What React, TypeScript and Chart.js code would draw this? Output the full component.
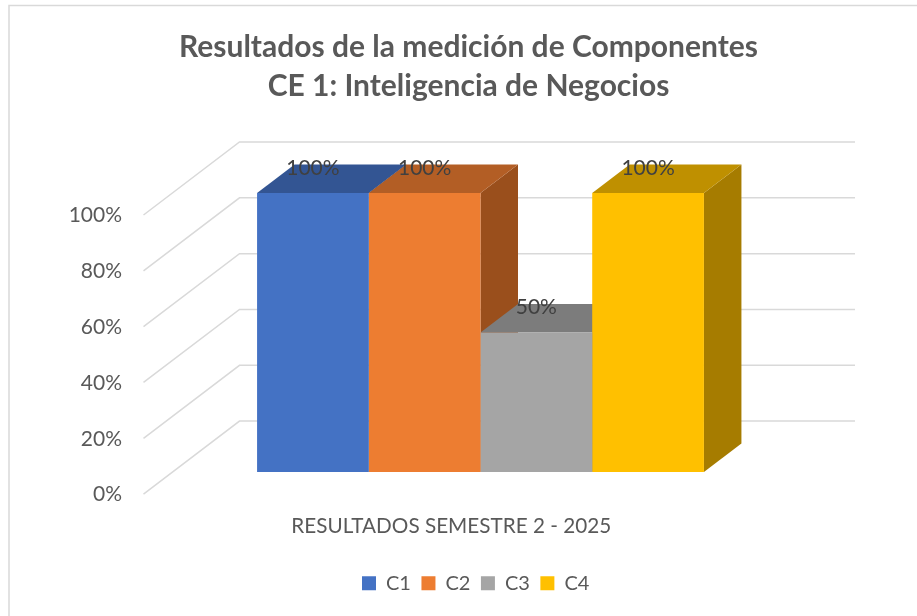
import React, { useEffect, useRef } from "react";
import { Chart, registerables } from "chart.js";

Chart.register(...registerables);

const categories = ["RESULTADOS SEMESTRE 2 - 2025"];
const seriesNames = ["C1", "C2", "C3", "C4"];
const seriesValues = [[100], [100], [50], [100]];
const frontColors = ["#4472C4", "#ED7D31", "#A5A5A5", "#FFC000"];
const topColors = ["#335593", "#B35E25", "#7C7C7C", "#BF9000"];
const sideColors = ["#294476", "#9A4F1C", "#636363", "#A67C00"];
const titleLines = ["Resultados de la medición de Componentes", "CE 1: Inteligencia de Negocios"];
const FONT = "Lato, Carlito, Calibri, sans-serif";
const TEXT = "#595959";
const GRID = "#D9D9D9";
const LEGEND_PAD = 10.5;
const floorDx = 96;
const floorDy = -73;
const barShiftX = 29.25;
const barShiftY = -22;
const barDepthX = 37.5;
const barDepthY = -28.5;

const poly = (ctx: CanvasRenderingContext2D, pts: number[][], fill: string) => {
  ctx.beginPath();
  pts.forEach(([x, y], i) => (i ? ctx.lineTo(x, y) : ctx.moveTo(x, y)));
  ctx.closePath();
  ctx.fillStyle = fill;
  ctx.fill();
};

const scene3d = {
  id: "scene3d",
  afterLayout(chart: any) {
    const t = chart.titleBlock;
    t.left = 10;
    t.right = 927;
    const l = chart.legend;
    l.left = 362 - LEGEND_PAD;
    l.right = 917;
  },
  beforeDraw(chart: any) {
    const ctx: CanvasRenderingContext2D = chart.ctx;
    ctx.save();
    ctx.strokeStyle = GRID;
    ctx.lineWidth = 1.5;
    ctx.beginPath();
    ctx.moveTo(9, 616);
    ctx.lineTo(9, 5.5);
    ctx.lineTo(917, 5.5);
    ctx.stroke();
    ctx.restore();
  },
  beforeDatasetsDraw(chart: any) {
    const ctx: CanvasRenderingContext2D = chart.ctx;
    const { left, right } = chart.chartArea;
    const yScale = chart.scales.y;
    ctx.save();
    ctx.strokeStyle = GRID;
    ctx.lineWidth = 1.5;
    yScale.ticks.forEach((tick: any) => {
      const y = yScale.getPixelForValue(tick.value);
      ctx.beginPath();
      ctx.moveTo(left, y);
      ctx.lineTo(left + floorDx, y + floorDy);
      ctx.lineTo(right + floorDx, y + floorDy);
      ctx.stroke();
    });
    chart.data.datasets.forEach((_: any, i: number) => {
      const el = chart.getDatasetMeta(i).data[0];
      const x0 = el.x - el.width / 2 + barShiftX;
      const x1 = el.x + el.width / 2 + barShiftX;
      const yTop = el.y + barShiftY;
      const yBase = el.base + barShiftY;
      poly(ctx, [[x1, yTop], [x1 + barDepthX, yTop + barDepthY], [x1 + barDepthX, yBase + barDepthY], [x1, yBase]], sideColors[i]);
      poly(ctx, [[x0, yTop], [x0 + barDepthX, yTop + barDepthY], [x1 + barDepthX, yTop + barDepthY], [x1, yTop]], topColors[i]);
    });
    ctx.restore();
    ctx.save();
    ctx.translate(barShiftX, barShiftY);
  },
  afterDatasetsDraw(chart: any) {
    const ctx: CanvasRenderingContext2D = chart.ctx;
    ctx.restore();
    ctx.save();
    ctx.font = `21px ${FONT}`;
    ctx.fillStyle = "#404040";
    ctx.textAlign = "center";
    ctx.textBaseline = "middle";
    chart.data.datasets.forEach((ds: any, i: number) => {
      const el = chart.getDatasetMeta(i).data[0];
      ctx.fillText(`${ds.data[0]}%`, el.x + barShiftX, el.y + barShiftY - 25);
    });
    ctx.restore();
  },
};

export default function App() {
  const ref = useRef<HTMLCanvasElement>(null);
  useEffect(() => {
    const chart = new Chart(ref.current!, {
      type: "bar",
      data: {
        labels: categories,
        datasets: seriesNames.map((name, i) => ({
          label: name,
          data: seriesValues[i],
          backgroundColor: frontColors[i],
          borderWidth: 0,
          categoryPercentage: 0.726,
          barPercentage: 1,
        })),
      },
      options: {
        responsive: false,
        animation: false,
        layout: { padding: { left: 0, right: 158, top: 0, bottom: 12.7 } },
        scales: {
          x: {
            grid: { display: false },
            border: { display: false },
            ticks: { display: false },
            title: {
              display: true,
              text: categories[0],
              color: TEXT,
              font: { family: FONT, size: 20.7 },
              padding: { top: 0, bottom: 24.3 },
            },
            afterFit(scale: any) {
              scale.height = 68.7;
            },
          },
          y: {
            min: 0,
            max: 100,
            grid: { display: false },
            border: { display: false },
            ticks: {
              stepSize: 20,
              color: TEXT,
              padding: 13.5,
              labelOffset: 0.5,
              font: { family: FONT, size: 21 },
              callback: (v: any) => `${v}%`,
            },
            afterFit(scale: any) {
              scale.width = 143.5;
            },
          },
        },
        plugins: {
          title: {
            display: true,
            text: titleLines,
            color: TEXT,
            font: { family: FONT, size: 30, weight: "bold", lineHeight: 1.3 },
            padding: { top: 27.5, bottom: 109.5 },
          },
          legend: {
            display: true,
            position: "bottom",
            align: "start",
            labels: {
              boxWidth: 14,
              boxHeight: 14,
              padding: LEGEND_PAD,
              color: TEXT,
              font: { family: FONT, size: 20 },
            },
          },
          tooltip: { enabled: false },
        },
      },
      plugins: [scene3d],
    } as any);
    return () => chart.destroy();
  }, []);
  return (
    <div style={{ position: "absolute", left: 0, top: 0, width: 917, height: 616, background: "#fff" }}>
      <canvas ref={ref} width={917} height={616} style={{ display: "block" }} />
    </div>
  );
}
